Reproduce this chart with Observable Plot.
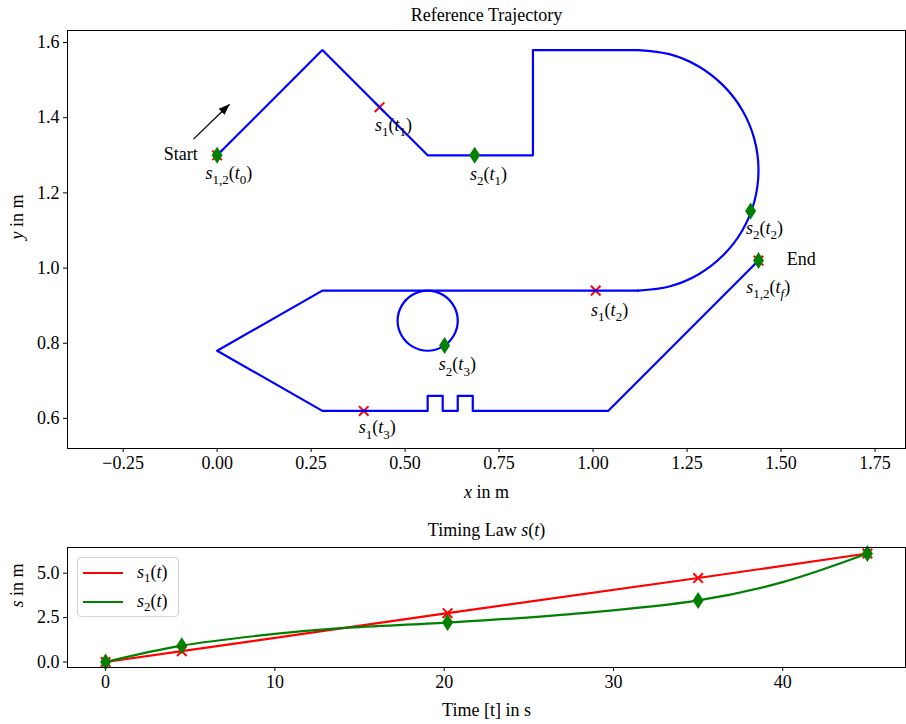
<!DOCTYPE html>
<html><head><meta charset="utf-8">
<script src="https://cdn.jsdelivr.net/npm/d3@7"></script>
<script src="https://cdn.jsdelivr.net/npm/@observablehq/plot@0.6"></script>
<style>
body{margin:0;background:#fff;}
#wrap{position:relative;width:906px;height:724px;font-family:"Liberation Serif",serif;background:#fff;}
#wrap svg{display:block;}
#legend{position:absolute;left:77px;top:557px;width:102px;height:60px;border:1px solid #d5d5d5;border-radius:4px;background:rgba(255,255,255,0.85);box-sizing:border-box;font-size:18px;}
#legend .row{position:absolute;left:0;height:20px;line-height:20px;}
#legend .sw{position:absolute;left:5px;top:9px;width:40px;height:2px;}
#legend .lb{position:absolute;left:59px;top:-1px;white-space:nowrap;}
#legend sub{font-size:72%;vertical-align:-0.28em;line-height:0;}
</style></head><body><div id="wrap"></div>
<script>
// ---------- Reference trajectory (top chart) ----------
const FONT = "Liberation Serif";
// straight pieces of the track [x, y]
const legStart = [[0,1.30],[0.28,1.58],[0.56,1.30],[0.84,1.30],[0.84,1.58],[1.12,1.58]];
const legReturn = [[1.12,0.94],[0.28,0.94],[0,0.78],[0.28,0.62],[0.56,0.62],[0.56,0.66],[0.60,0.66],[0.60,0.62],[0.64,0.62],[0.64,0.66],[0.68,0.66],[0.68,0.62],[1.04,0.62],[1.44,1.02]];
// points read along the big half circle
const arcPts = [[1.120,1.580],[1.203,1.569],[1.280,1.537],[1.346,1.486],[1.397,1.420],[1.429,1.343],[1.440,1.260],[1.429,1.177],[1.397,1.100],[1.346,1.034],[1.280,0.983],[1.203,0.951],[1.120,0.940]];
// points read along the small loop
const loopPts = [[0.560,0.940],[0.520,0.929],[0.491,0.900],[0.480,0.860],[0.491,0.820],[0.520,0.791],[0.560,0.780],[0.600,0.791],[0.629,0.820],[0.640,0.860],[0.629,0.900],[0.600,0.929]];
// sample positions on the track
const s1X = [0, 0.432, 1.007, 0.390, 1.44];
const s1Y = [1.30, 1.428, 0.940, 0.620, 1.02];
const s2X = [0, 0.685, 1.419, 0.605, 1.44];
const s2Y = [1.30, 1.300, 1.152, 0.794, 1.02];
// annotation texts and where they sit
const annText = ["$s_{1,2}(t_0)$","$s_1(t_1)$","$s_2(t_1)$","$s_2(t_2)$","$s_{1,2}(t_f)$","$s_1(t_2)$","$s_2(t_3)$","$s_1(t_3)$","Start","End"];
const annX = [0.031, 0.469, 0.722, 1.456, 1.466, 1.044, 0.639, 0.426, -0.097, 1.554];
const annY = [1.253, 1.380, 1.250, 1.107, 0.950, 0.889, 0.743, 0.576, 1.303, 1.024];
const arrowFrom = [-0.063, 1.343];
const arrowTo = [0.033, 1.436];
const topXTicks = [-0.25, 0, 0.25, 0.5, 0.75, 1, 1.25, 1.5, 1.75];
const topYTicks = [0.6, 0.8, 1.0, 1.2, 1.4, 1.6];

// ---------- Timing law (bottom chart) ----------
const tSamples = [0, 4.5, 20.2, 35, 45];
const s1Vals = [0, 0.61, 2.75, 4.73, 6.11];
const s2Vals = [0, 0.92, 2.22, 3.47, 6.11];
// extra points
const s2CurveT = [0, 4.5, 10, 14.1, 20.2, 27.5, 35, 40, 45];
const s2CurveS = [0, 0.92, 1.58, 1.92, 2.22, 2.70, 3.47, 4.50, 6.11];
const botXTicks = [0, 10, 20, 30, 40];
const botYTicks = [0, 2.5, 5.0];

// custom marker shapes
const thinDiamond = {draw(ctx){ctx.moveTo(0,-8.5);ctx.lineTo(5.5,0);ctx.lineTo(0,8.5);ctx.lineTo(-5.5,0);ctx.closePath();}};
const cross = {draw(ctx){ctx.moveTo(-4.8,-4.8);ctx.lineTo(4.8,4.8);ctx.moveTo(4.8,-4.8);ctx.lineTo(-4.8,4.8);}};
const headTri = {draw(ctx){ctx.moveTo(0,0);ctx.lineTo(4.2,11);ctx.lineTo(-4.2,11);ctx.closePath();}};

const toRows = (pts) => pts.map(([x,y]) => ({x,y}));
const s1Rows = s1X.map((x,i)=>({x, y:s1Y[i]}));
const s2Rows = s2X.map((x,i)=>({x, y:s2Y[i]}));
const annRows = annText.map((t,i)=>({t, x:annX[i], y:annY[i]}));
const FS = 18;

const topChart = Plot.plot({
  width: 906, height: 510,
  marginLeft: 67, marginRight: 1, marginTop: 30, marginBottom: 62,
  style: {fontFamily: FONT, fontSize: FS + "px", color: "black", background: "white", overflow: "visible"},
  x: {domain: [-0.398, 1.831], ticks: topXTicks, tickFormat: ".2f", label: null, tickSize: 4, tickPadding: 4},
  y: {domain: [0.520, 1.632], ticks: topYTicks, tickFormat: ".1f", label: null, tickSize: 4, tickPadding: 4},
  marks: [
    Plot.dot(s1Rows, {x:"x", y:"y", symbol: cross, r: 5, stroke: "#ff0000", strokeWidth: 2, fill: "none"}),
    Plot.line(toRows(legStart), {x:"x", y:"y", stroke:"#0000ff", strokeWidth: 2.2}),
    Plot.line(toRows(legReturn), {x:"x", y:"y", stroke:"#0000ff", strokeWidth: 2.2}),
    Plot.line(toRows(arcPts), {x:"x", y:"y", stroke:"#0000ff", strokeWidth: 2.2, curve: "catmull-rom"}),
    Plot.line(toRows(loopPts), {x:"x", y:"y", stroke:"#0000ff", strokeWidth: 2.2, curve: "catmull-rom-closed"}),
    Plot.dot(s2Rows, {x:"x", y:"y", symbol: thinDiamond, r: 5, fill: "#008000", stroke: "none"}),
    Plot.link([0], {x1: ()=>arrowFrom[0], y1: ()=>arrowFrom[1], x2: ()=>arrowTo[0], y2: ()=>arrowTo[1], stroke: "black", strokeWidth: 1.3}),
    Plot.dot([0], {x: ()=>arrowTo[0], y: ()=>arrowTo[1], symbol: headTri, r: 5, fill: "black", stroke: "none", rotate: 46}),
    Plot.text(annRows, {x:"x", y:"y", text:"t", fontSize: FS, textAnchor: "middle", lineAnchor: "middle"}),
    Plot.text(["Reference Trajectory"], {frameAnchor: "top", dy: -15, lineAnchor: "middle", text: d=>d, fontSize: FS}),
    Plot.text(["$x$ in m"], {frameAnchor: "bottom", dy: 44, lineAnchor: "middle", text: d=>d, fontSize: FS}),
    Plot.text(["$y$ in m"], {frameAnchor: "left", dx: -50, rotate: -90, lineAnchor: "middle", text: d=>d, fontSize: FS}),
    Plot.frame({stroke: "black", strokeWidth: 1})
  ]
});

const s1Line = tSamples.map((t,i)=>({t, s:s1Vals[i]}));
const s2Marks = tSamples.map((t,i)=>({t, s:s2Vals[i]}));
const s2Line = s2CurveT.map((t,i)=>({t, s:s2CurveS[i]}));

const botChart = Plot.plot({
  width: 906, height: 214,
  marginLeft: 67, marginRight: 1, marginTop: 37, marginBottom: 57,
  style: {fontFamily: FONT, fontSize: FS + "px", color: "black", background: "white", overflow: "visible"},
  x: {domain: [-2.25, 47.25], ticks: botXTicks, tickFormat: "d", label: null, tickSize: 4, tickPadding: 4},
  y: {domain: [-0.31, 6.45], ticks: botYTicks, tickFormat: ".1f", label: null, tickSize: 4, tickPadding: 4},
  marks: [
    Plot.line(s1Line, {x:"t", y:"s", stroke:"#ff0000", strokeWidth: 2.2}),
    Plot.line(s2Line, {x:"t", y:"s", stroke:"#008000", strokeWidth: 2.2, curve: "catmull-rom"}),
    Plot.dot(s1Line, {x:"t", y:"s", symbol: cross, r: 5, stroke: "#ff0000", strokeWidth: 2, fill: "none"}),
    Plot.dot(s2Marks, {x:"t", y:"s", symbol: thinDiamond, r: 5, fill: "#008000", stroke: "none"}),
    Plot.text(["Timing Law $s(t)$"], {frameAnchor: "top", dy: -17, lineAnchor: "middle", text: d=>d, fontSize: FS}),
    Plot.text(["Time [t] in s"], {frameAnchor: "bottom", dy: 43, lineAnchor: "middle", text: d=>d, fontSize: FS}),
    Plot.text(["$s$ in m"], {frameAnchor: "left", dx: -50, rotate: -90, lineAnchor: "middle", text: d=>d, fontSize: FS}),
    Plot.frame({stroke: "black", strokeWidth: 1})
  ]
});

// ---- render $...$ math markup as tspans (italic letters, subscripts) ----
function parseMath(str){
  const runs=[]; let math=false; let i=0;
  const push=(t,it,sub)=>{const l=runs[runs.length-1]; if(l&&l.it===it&&l.sub===sub) l.t+=t; else runs.push({t,it,sub});};
  while(i<str.length){
    const c=str[i];
    if(c==='$'){math=!math;i++;continue;}
    if(math&&c==='_'){
      let g;
      if(str[i+1]==='{'){const j=str.indexOf('}',i+2); g=str.slice(i+2,j); i=j+1;}
      else {g=str[i+1]; i+=2;}
      for(const ch of g) push(ch,/[a-zA-Z]/.test(ch),true);
      continue;
    }
    push(c, math&&/[a-zA-Z]/.test(c), false); i++;
  }
  return runs;
}
function renderMath(el, str, size){
  while(el.firstChild) el.removeChild(el.firstChild);
  let shift=0;
  for(const r of parseMath(str)){
    const ts=document.createElementNS('http://www.w3.org/2000/svg','tspan');
    ts.textContent=r.t;
    if(r.it) ts.setAttribute('font-style','italic');
    const target = r.sub ? size*0.3 : 0;
    if(target!==shift){ts.setAttribute('dy', (target-shift).toFixed(2)); shift=target;}
    if(r.sub) ts.setAttribute('font-size', (size*0.72).toFixed(1));
    el.appendChild(ts);
  }
}
for (const svg of [topChart, botChart]) {
  svg.querySelectorAll('text').forEach(el => {
    const s = el.textContent;
    if (s.includes('$')) renderMath(el, s, FS);
  });
}

const wrap = document.getElementById('wrap');
wrap.appendChild(topChart);
wrap.appendChild(botChart);

const legend = document.createElement('div');
legend.id = 'legend';
legend.innerHTML =
  '<div class="row" style="top:5px;width:100%"><div class="sw" style="background:#ff0000"></div><div class="lb"><i>s</i><sub>1</sub>(<i>t</i>)</div></div>' +
  '<div class="row" style="top:34px;width:100%"><div class="sw" style="background:#008000"></div><div class="lb"><i>s</i><sub>2</sub>(<i>t</i>)</div></div>';
wrap.appendChild(legend);
</script>
</body></html>
